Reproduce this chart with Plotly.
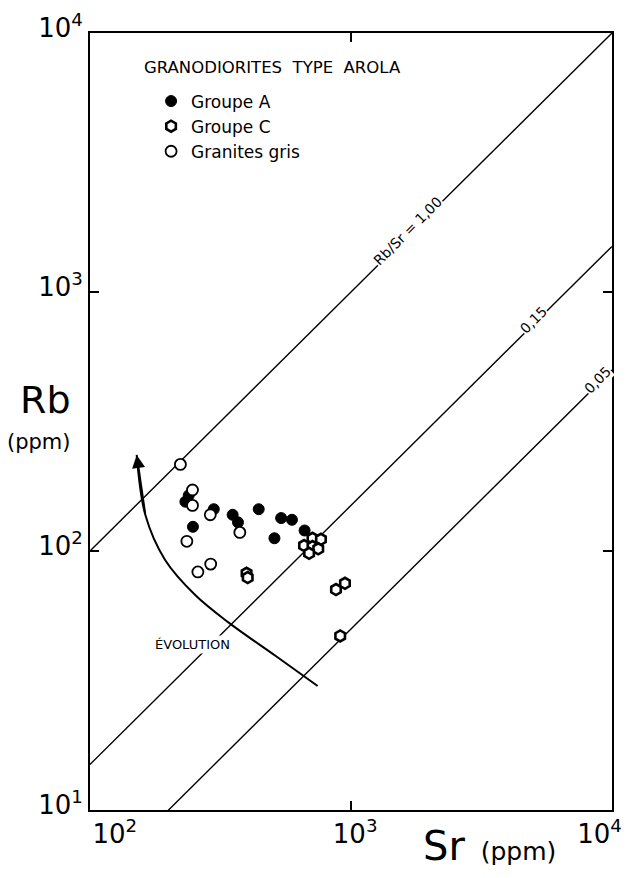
import numpy as np
import plotly.graph_objects as go

# ---------------- data ----------------
groupeA_sr = [232, 239, 298, 352, 369, 443, 540, 594, 664, 509, 248]
groupeA_rb = [155, 164, 145, 138, 129, 145, 134, 132, 120, 112, 124]

groupeC_sr = [398, 402, 712, 767, 661, 712, 749, 691, 948, 876, 909]
groupeC_rb = [82, 79, 112, 111, 105, 104, 102, 98, 75, 71, 47]

gris_sr = [222, 247, 247, 289, 375, 235, 290, 259]
gris_rb = [216, 172, 150, 138, 118, 109, 89, 83]

ratios = [1.00, 0.15, 0.05]
ratio_labels = ["Rb/Sr = 1,00", "0,15", "0,05"]
ratio_label_sr = [1650, 5000, 8800]

evol_sr = [745, 515, 340, 253, 194, 163, 151]
evol_rb = [30.1, 39.3, 52.9, 67.6, 92.3, 137.7, 234.9]

x_ticks = [100, 1000, 10000]
x_ticktext = ["&nbsp;&nbsp;&nbsp;&nbsp;&nbsp;&nbsp;10<sup>2</sup>",
              "&nbsp;10<sup>3</sup>",
              "10<sup>4</sup>&nbsp;&nbsp;&nbsp;"]
y_ticks = [10, 100, 1000, 10000]
y_ticktext = ["10<sup>1</sup>", "10<sup>2</sup>", "10<sup>3</sup>", "10<sup>4</sup>"]

FONT = "DejaVu Sans"

fig = go.Figure()

# ratio lines
for r in ratios:
    xs = np.array([100.0, 10000.0])
    fig.add_trace(go.Scatter(x=xs, y=r * xs, mode="lines",
                             line=dict(color="black", width=1.4),
                             showlegend=False, hoverinfo="skip"))

# evolution curve
fig.add_trace(go.Scatter(x=evol_sr, y=evol_rb, mode="lines",
                         line=dict(color="black", width=2, shape="spline", smoothing=1.0),
                         showlegend=False, hoverinfo="skip"))

# data
fig.add_trace(go.Scatter(x=groupeA_sr, y=groupeA_rb, mode="markers", name="Groupe A",
                         marker=dict(symbol="circle", size=11, color="black",
                                     line=dict(color="black", width=1))))
fig.add_trace(go.Scatter(x=groupeC_sr, y=groupeC_rb, mode="markers", name="Groupe C",
                         marker=dict(symbol="hexagon", size=11, color="white",
                                     line=dict(color="black", width=2.6))))
fig.add_trace(go.Scatter(x=gris_sr, y=gris_rb, mode="markers", name="Granites gris",
                         marker=dict(symbol="circle", size=11, color="white",
                                     line=dict(color="black", width=1.8))))

annotations = []
for r, lab, sx in zip(ratios, ratio_labels, ratio_label_sr):
    annotations.append(dict(x=np.log10(sx), y=np.log10(r * sx * 1.04), xref="x", yref="y",
                            text=lab, showarrow=False, textangle=-45,
                            font=dict(family=FONT, size=14, color="black"),
                            bgcolor="white", borderpad=0))

# arrow head of evolution
annotations.append(dict(x=np.log10(evol_sr[-1]), y=np.log10(evol_rb[-1]),
                        ax=np.log10(evol_sr[-2]), ay=np.log10(evol_rb[-2]),
                        xref="x", yref="y", axref="x", ayref="y",
                        showarrow=True, arrowhead=2, arrowsize=1.3, arrowwidth=2,
                        arrowcolor="black", text="", standoff=0))
annotations.append(dict(x=np.log10(246), y=np.log10(43.4), xref="x", yref="y",
                        text="ÉVOLUTION", showarrow=False,
                        font=dict(family=FONT, size=13, color="black"),
                        bgcolor="white"))

# legend heading
annotations.append(dict(x=0.349, y=0.955, xref="paper", yref="paper",
                        xanchor="center", yanchor="middle", showarrow=False,
                        text="GRANODIORITES  TYPE  AROLA",
                        font=dict(family=FONT, size=16.5, color="black")))

# axis titles
annotations.append(dict(x=0.766, y=-0.014, xref="paper", yref="paper",
                        xanchor="center", yanchor="top", showarrow=False,
                        text="<span style='font-size:40px'>Sr</span><span style='font-size:25px'>&nbsp;&nbsp;(ppm)</span>",
                        font=dict(family=FONT, color="black")))
annotations.append(dict(x=-0.086, y=0.528, xref="paper", yref="paper",
                        xanchor="center", yanchor="middle", showarrow=False,
                        text="<span style='font-size:38px'>Rb</span>",
                        font=dict(family=FONT, color="black")))
annotations.append(dict(x=-0.097, y=0.474, xref="paper", yref="paper",
                        xanchor="center", yanchor="middle", showarrow=False,
                        text="<span style='font-size:21px'>(ppm)</span>",
                        font=dict(family=FONT, color="black")))

fig.update_layout(
    template="none",
    width=613, height=862,
    margin=dict(l=82, r=9, t=25, b=60),
    paper_bgcolor="white", plot_bgcolor="white",
    font=dict(family=FONT, color="black"),
    annotations=annotations,
    legend=dict(x=0.117, y=0.935, xanchor="left", yanchor="top",
                bgcolor="rgba(0,0,0,0)",
                font=dict(family=FONT, size=17, color="black"),
                tracegroupgap=0, itemwidth=30),
)
fig.update_xaxes(type="log", range=[2, 4], tickvals=x_ticks, ticktext=x_ticktext,
                 automargin=False,
                 showgrid=False, zeroline=False, showline=True, linecolor="black",
                 linewidth=2, mirror="ticks", ticks="inside", ticklen=9, tickwidth=2,
                 tickcolor="black", ticklabeloverflow="allow",
                 tickfont=dict(family=FONT, size=26, color="black"))
fig.update_yaxes(type="log", range=[1, 4], tickvals=y_ticks, ticktext=y_ticktext,
                 automargin=False, ticklabelshift=-5,
                 showgrid=False, zeroline=False, showline=True, linecolor="black",
                 linewidth=2, mirror="ticks", ticks="inside", ticklen=9, tickwidth=2,
                 tickcolor="black", ticklabeloverflow="allow",
                 tickfont=dict(family=FONT, size=26, color="black"))

fig.write_html("out.html")
